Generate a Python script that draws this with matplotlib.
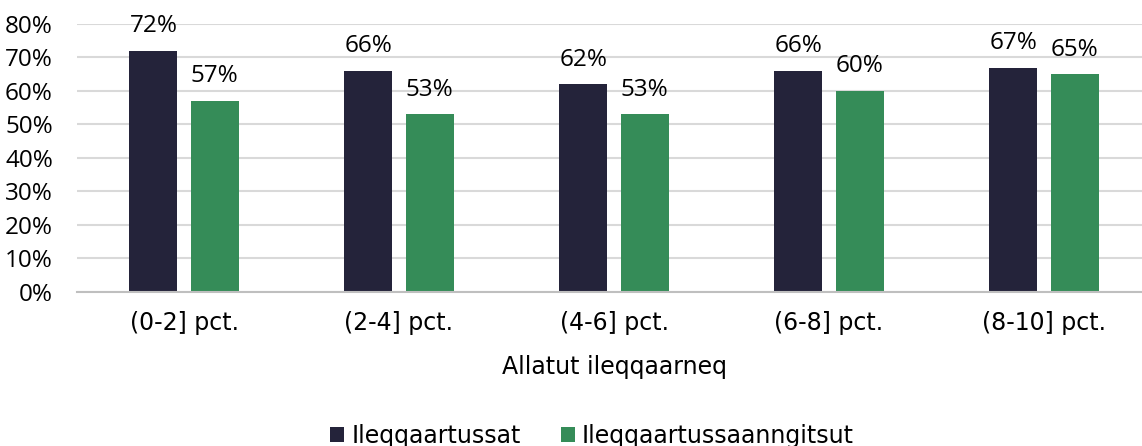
import matplotlib
matplotlib.use("Agg")
import matplotlib.pyplot as plt
import numpy as np
from matplotlib.ticker import FuncFormatter

categories = ["(0-2] pct.", "(2-4] pct.", "(4-6] pct.", "(6-8] pct.", "(8-10] pct."]
series_names = ["Ileqqaartussat", "Ileqqaartussaanngitsut"]
ileqqaartussat = [72, 66, 62, 66, 67]
ileqqaartussaanngitsut = [57, 53, 53, 60, 65]
yticks = [0, 10, 20, 30, 40, 50, 60, 70, 80]

plt.rcParams['font.family'] = ['DejaVu Sans']
pct_font = ["Open Sans", "DejaVu Sans"]
pct_fs = 17.5

W, H = 1142, 446
fig = plt.figure(figsize=(W/100, H/100), dpi=100)
ax = fig.add_axes([76.5/W, (H-291.7)/H, 1075/W, 267.7/H])

x = np.arange(len(categories))
bw = 0.223
off = 0.142
c1 = "#24233a"
c2 = "#358c58"
b1 = ax.bar(x - off, ileqqaartussat, bw, color=c1, label=series_names[0], zorder=3)
b2 = ax.bar(x + off, ileqqaartussaanngitsut, bw, color=c2, label=series_names[1], zorder=3)

fs = 17
for bars, vals in ((b1, ileqqaartussat), (b2, ileqqaartussaanngitsut)):
    for r, v in zip(bars, vals):
        ax.annotate(f"{v}%", (r.get_x() + r.get_width()/2, r.get_height()),
                    xytext=(0, 9), textcoords="offset points",
                    ha="center", va="bottom", fontsize=pct_fs,
                    family=pct_font, color="black")

ax.set_xlim(-0.5, len(categories) - 0.5)
ax.set_ylim(0, 80)
ax.set_yticks(yticks)
ax.yaxis.set_major_formatter(FuncFormatter(lambda v, p: f"{int(v)}%"))
ax.set_xticks(x)
ax.set_xticklabels(categories)
ax.tick_params(axis="y", length=0, pad=17, labelsize=pct_fs)
for t in ax.get_yticklabels():
    t.set_family(pct_font)
ax.tick_params(axis="x", length=0, pad=14, labelsize=fs)
ax.grid(axis="y", color="#d9d9d9", linewidth=1.5, zorder=0)
for s in ["top", "right", "left"]:
    ax.spines[s].set_visible(False)
ax.spines["bottom"].set_color("#bfbfbf")
ax.spines["bottom"].set_linewidth(1.5)
ax.spines["bottom"].set_zorder(4)
ax.set_xlabel("Allatut ileqqaarneq", fontsize=fs, labelpad=14)

fig.legend(handles=[b1, b2], labels=series_names, loc="center",
           bbox_to_anchor=(592/W, 1 - 436/H), ncol=2, frameon=False,
           fontsize=fs, handlelength=0.6, handleheight=0.6, handletextpad=0.3,
           columnspacing=1.7)

fig.savefig("out.png", dpi=100)
